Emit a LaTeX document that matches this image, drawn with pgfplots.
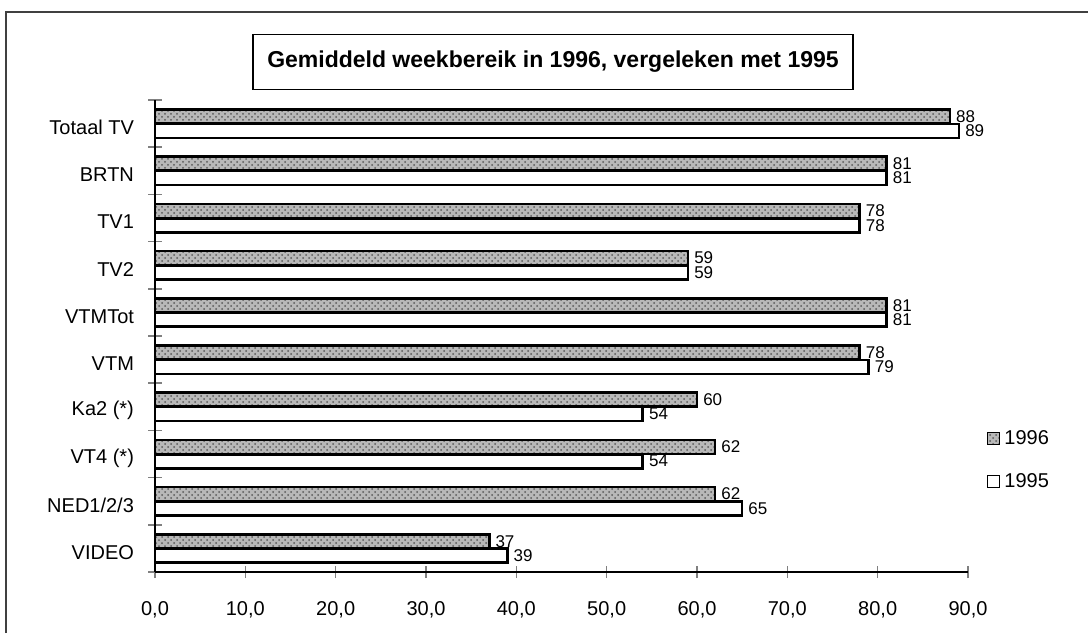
\documentclass[border=0pt]{standalone}
\usepackage{fontspec}
\setmainfont{Liberation Sans}
\usepackage{pgfplots}
\pgfplotsset{compat=1.18}
\usetikzlibrary{patterns}
\begin{document}
\begin{tikzpicture}[x=1pt,y=1pt]
\path[use as bounding box] (0,0) rectangle (544,316.5);
\draw[line width=0.6pt, black!75] (3,0) -- (3,310.5) -- (544,310.5);
\node[draw, line width=0.8pt, minimum width=300pt, minimum height=27.5pt, inner sep=0pt,
      font=\bfseries\fontsize{11.5}{13}\selectfont] at (276.5,285.5)
      {Gemiddeld weekbereik in 1996, vergeleken met 1995};
\begin{axis}[
  at={(77.5pt,30.5pt)}, anchor=south west,
  scale only axis, width=406.5pt, height=236pt,
  xbar, bar width=7pt,
  xmin=0, xmax=90, ymin=-0.5, ymax=9.5,
  axis x line*=bottom, axis y line*=left,
  axis line style={-, line width=1pt},
  xtick={0,10,...,90},
  ytick={0,...,9},
  yticklabels={VIDEO,NED1/2/3,VT4 (*),Ka2 (*),VTM,VTMTot,TV2,TV1,BRTN,Totaal TV},
  major y tick style={draw=none},
  minor ytick={-0.5,0.5,...,9.5},
  minor y tick style={line width=0.8pt},
  major x tick style={line width=0.8pt},
  tick align=center,
  major tick length=6pt, minor tick length=7pt,
  xticklabel style={yshift=-8pt},
  yticklabel style={xshift=-4pt, yshift=-2pt},
  x tick label style={/pgf/number format/.cd, fixed, fixed zerofill, precision=1, use comma, assume math mode=true},
  tick label style={font=\fontsize{10}{12}\selectfont},
  nodes near coords={\pgfmathprintnumber[assume math mode=true]{\pgfplotspointmeta}},
  nodes near coords style={font=\fontsize{8.5}{9}\selectfont, inner sep=2.5pt},
  legend style={at={(1.064,0.237)}, anchor=center, draw=none, fill=none,
    font=\fontsize{10}{12}\selectfont, row sep=9pt},
  legend cell align=left,
  legend image code/.code={\draw[#1, line width=0.7pt] (0pt,-3pt) rectangle (6pt,3pt);},
  clip=false,
]
\addplot[draw=black, line width=1.3pt, fill=black!28,
  postaction={pattern=crosshatch dots, pattern color=black!65},
  bar shift=3.6pt]
  coordinates {(88,9) (81,8) (78,7) (59,6) (81,5) (78,4) (60,3) (62,2) (62,1) (37,0)};
\addlegendentry{1996}
\addplot[draw=black, line width=1.3pt, fill=white, bar shift=-3.6pt]
  coordinates {(89,9) (81,8) (78,7) (59,6) (81,5) (79,4) (54,3) (54,2) (65,1) (39,0)};
\addlegendentry{1995}
\end{axis}
\end{tikzpicture}
\end{document}
